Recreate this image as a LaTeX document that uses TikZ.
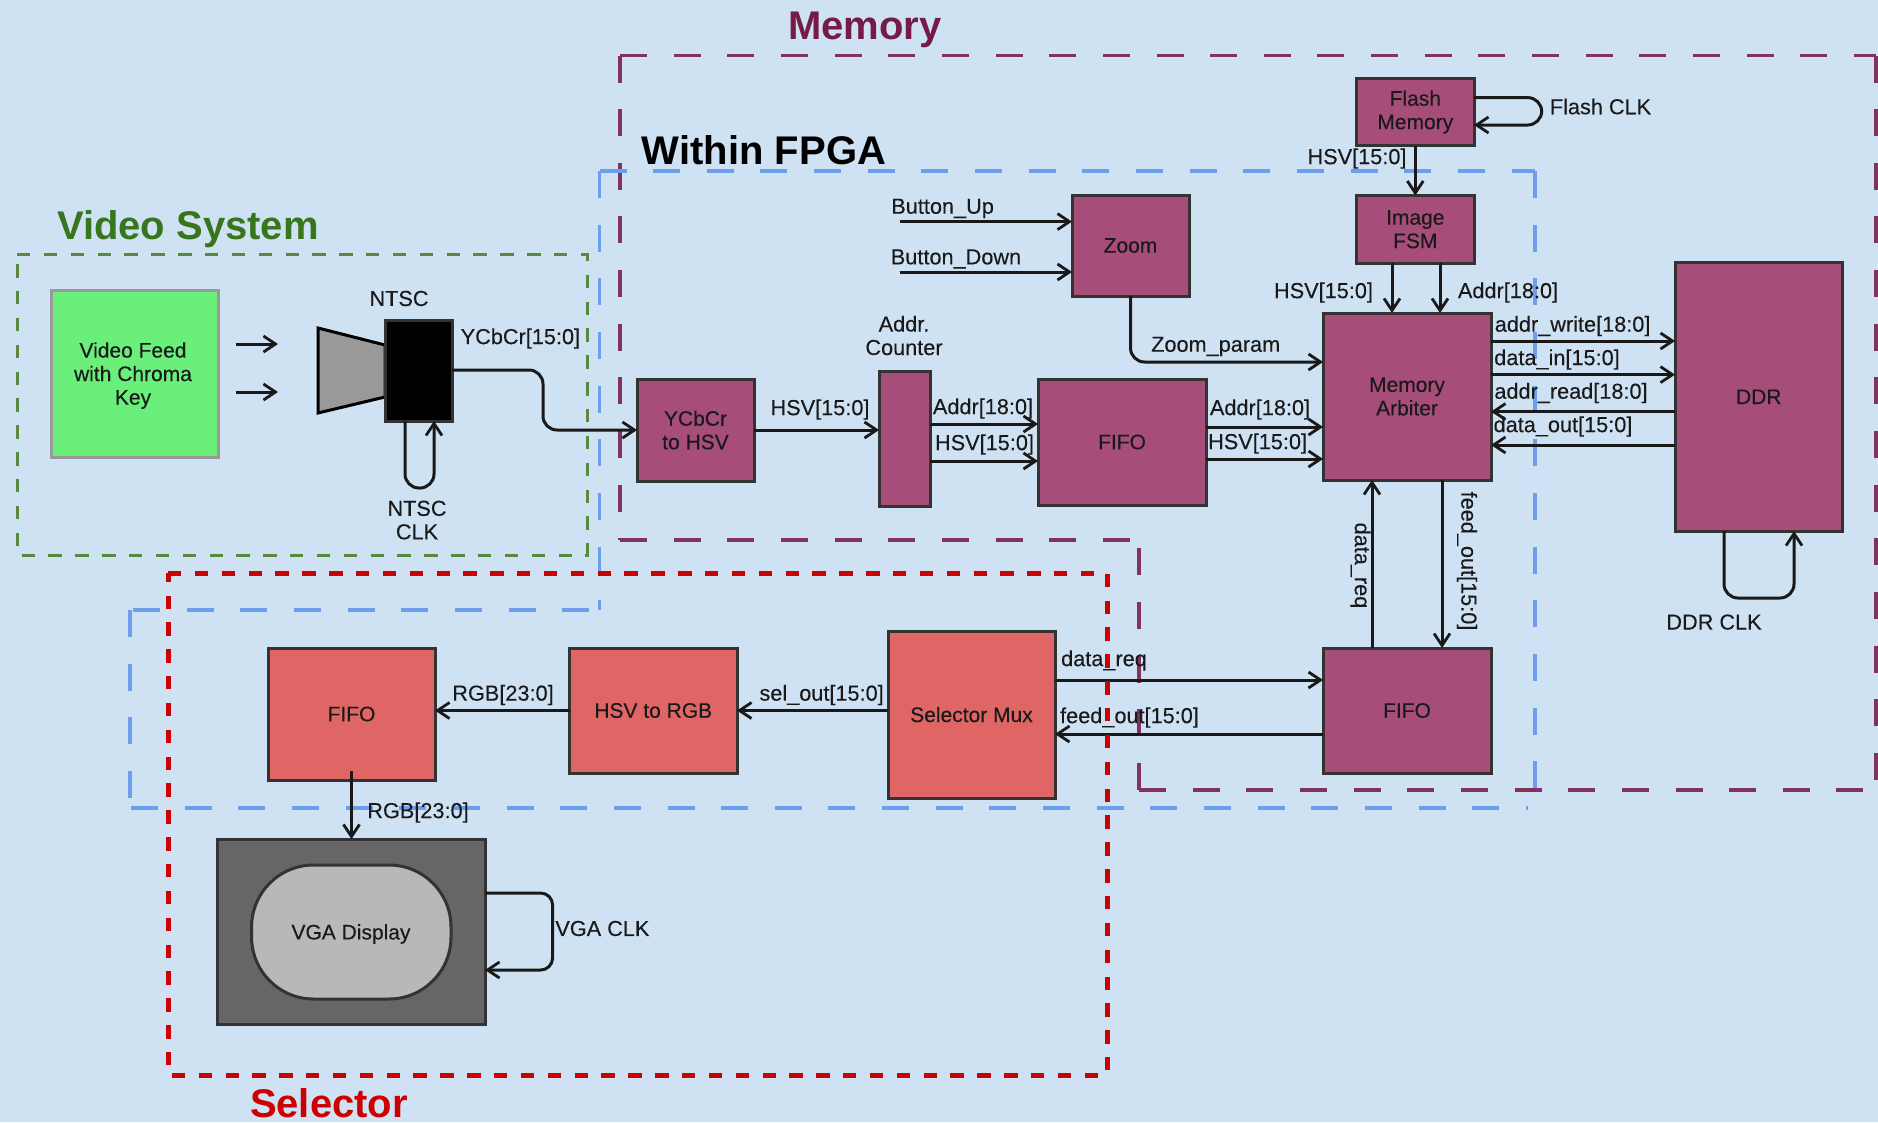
\documentclass[tikz,border=0pt]{standalone}
\usepackage{fontspec}
\setmainfont{Liberation Sans}
\newfontfamily\lblfont[FakeBold=0.15]{Liberation Sans}
\usetikzlibrary{arrows.meta,calc}
\definecolor{bgc}{HTML}{CFE2F3}
\definecolor{plum}{HTML}{A64D79}
\definecolor{salmon}{HTML}{E06666}
\definecolor{edgec}{HTML}{333333}
\definecolor{memc}{HTML}{741B47}
\definecolor{memd}{HTML}{82325F}
\definecolor{fpgac}{HTML}{6D9EEB}
\definecolor{vidc}{HTML}{38761D}
\definecolor{selc}{HTML}{CC0000}
\definecolor{feedc}{HTML}{6AEF7A}
\tikzset{
  x=1pt,y=-1pt,
  lbl/.style={inner sep=0pt,outer sep=0pt,align=center,text=black!90,font=\lblfont\fontsize{21}{23.5}\selectfont},
  tag/.style={inner sep=0pt,outer sep=0pt,align=center,text=black!90,font=\lblfont\fontsize{21.7}{23.5}\selectfont,yshift=-1.5pt},
  title/.style={inner sep=0pt,outer sep=0pt,font=\fontsize{40}{44}\selectfont\bfseries},
  boxb/.style={draw=edgec,line width=3pt,anchor=north west,inner sep=0pt,outer sep=0pt,lbl},
  pbox/.style={boxb,fill=plum},
  rbox/.style={boxb,fill=salmon},
  conn/.style={draw=black!90,line width=3pt,-{Straight Barb[length=12pt,width=16pt,line width=2.8pt]}},
  memzone/.style={draw=memd,line width=3.8pt,dash pattern=on 27pt off 26.65pt},
  fpgazone/.style={draw=fpgac,line width=3.5pt,dash pattern=on 27pt off 26.65pt},
  vidzone/.style={draw=vidc!85!white,line width=3pt,dash pattern=on 13.4pt off 13.45pt},
  selzone/.style={draw=selc,line width=5pt,dash pattern=on 13.4pt off 13.45pt}
}
\begin{document}
\begin{tikzpicture}
\useasboundingbox (0,0) rectangle (1878,1122);
\fill[bgc] (0,0) rectangle (1878,1122);

% zones below everything
\coordinate (mtl) at (620,55.5); \coordinate (mtr) at (1875.7,55.5);
\coordinate (mbr) at (1875.7,790); \coordinate (mbl) at (1139,790);
\coordinate (mil) at (620,540); \coordinate (mir) at (1139,540);
\draw[memzone] (mtl) -- (mtr);
\draw[memzone] (mtr) -- (mbr);
\draw[memzone] (mbl) -- (mbr);
\draw[memzone] (mbl) -- (mir);
\draw[memzone] (mil) -- (mir);
\draw[memzone] (mtl) -- (mil);

\coordinate (ftl) at (599.5,171); \coordinate (ftr) at (1535,171);
\coordinate (fbr) at (1535,808); \coordinate (fil) at (130,610);
\coordinate (fir) at (599.5,610); \coordinate (fbl) at (130,808);
\coordinate (fsa) at (133,610); \coordinate (fba) at (131,808); \coordinate (fbb) at (1528,808);
\draw[fpgazone] (ftl) -- (ftr);
\draw[fpgazone] (ftr) -- (fbr);
\draw[fpgazone] (fba) -- (fbb);
\draw[fpgazone] (fil) -- (fbl);
\draw[fpgazone] (fsa) -- (fir);
\draw[fpgazone] (ftl) -- (fir);

\draw[vidzone] (17,254) -- (587,254) -- (587,555) -- (17,555) -- cycle;

% titles
\node[title,text=memc] (tmem) at (865,29.5) {Memory};
\node[title,text=black] (tfpga) at (764,150) {Within FPGA};
\node[title,text=vidc] (tvid) at (188,229.5) {Video System};
\node[title,text=selc] (tsel) at (329,1103) {Selector};

% video system
\node[boxb,draw=black!40,fill=feedc,minimum width=167pt,minimum height=167pt] (feed) at (51,290) {};
\node[lbl] (lfeed) at (133,375.6) {Video Feed\\with Chroma\\Key};
\coordinate (a1s) at (236,344); \coordinate (a1e) at (278,344);
\coordinate (a2s) at (236,392); \coordinate (a2e) at (278,392);
\draw[conn] (a1s) -- (a1e);
\draw[conn] (a2s) -- (a2e);
\draw[draw=black,line width=3pt,fill=black!40,line join=miter] (385,345) -- (318,328) -- (318,413) -- (385,397) -- cycle;
\node[boxb,draw=edgec,fill=black,minimum width=67pt,minimum height=101pt] (ntsc) at (385,320) {};
\node[tag] (lntsc) at (399,297) {NTSC};
\node[tag] (lntclk) at (417,518.6) {NTSC\\CLK};
\draw[conn,rounded corners=14pt] (ntsc.south -| 405,0) -- (405,488) -- (434,488) -- (ntsc.south -| 434,0);
\node[tag] (lycc) at (520.4,337) {YCbCr[15:0]};

% memory path boxes
\node[pbox,minimum width=117pt,minimum height=102pt] (ycc) at (637,379) {YCbCr\\to HSV};
\node[pbox,minimum width=51pt,minimum height=135pt] (cnt) at (879,371) {};
\node[tag] (lcnt) at (904,334) {Addr.\\Counter};
\node[pbox,minimum width=168pt,minimum height=126pt] (fifoa) at (1038,379) {FIFO};
\node[pbox,minimum width=117pt,minimum height=101pt] (zoom) at (1072,195) {Zoom};
\node[pbox,minimum width=117.4pt,minimum height=67pt] (flash) at (1356.6,78.5) {Flash\\Memory};
\node[pbox,minimum width=117.4pt,minimum height=67.5pt] (fsm) at (1356.6,195.5) {Image\\FSM};
\node[pbox,minimum width=168pt,minimum height=167pt] (arb) at (1323,313) {Memory\\Arbiter};
\node[pbox,minimum width=167.5pt,minimum height=268.6pt] (ddr) at (1675,262.5) {DDR};
\node[pbox,minimum width=168pt,minimum height=125pt] (fifob) at (1323,648) {FIFO};

% selector boxes
\node[rbox,minimum width=167pt,minimum height=167pt] (mux) at (888,631) {Selector Mux};
\node[rbox,minimum width=167.5pt,minimum height=125pt] (h2r) at (569.5,648) {HSV to RGB};
\node[rbox,minimum width=167pt,minimum height=132pt] (fifor) at (268,648) {FIFO};
\node[boxb,fill=black!60,minimum width=268pt,minimum height=185pt] (vga) at (217,839) {};
\node[draw=edgec,line width=3pt,fill=black!28,rounded corners=62pt,anchor=north west,inner sep=0pt,outer sep=0pt,minimum width=199.4pt,minimum height=134pt] (disp) at (251.6,865) {};
\node[lbl] (ldisp) at (351,934) {VGA Display};

% connectors
\draw[conn,rounded corners=14pt] (ntsc.east |- 0,370) -- (543,370) -- (543,430) -- (ycc.west |- 0,430);
\draw[conn] (ycc.east |- 0,430) -- (cnt.west |- 0,430);
\draw[conn] (cnt.east |- 0,424) -- (fifoa.west |- 0,424);
\draw[conn] (cnt.east |- 0,461) -- (fifoa.west |- 0,461);
\draw[conn] (fifoa.east |- 0,427) -- (arb.west |- 0,427);
\draw[conn] (fifoa.east |- 0,459) -- (arb.west |- 0,459);
\coordinate (bup) at (899.5,221.6);
\coordinate (bdn) at (899.5,272);
\draw[conn] (bup) -- (zoom.west |- bup);
\draw[conn] (bdn) -- (zoom.west |- bdn);
\draw[conn,rounded corners=14pt] (zoom.south) -- (zoom.south |- 0,362) -- (arb.west |- 0,362);
\draw[conn] (flash.south) -- (fsm.north);
\draw[conn,rounded corners=14pt] (flash.east |- 0,97.6) -- (1541.7,97.6) -- (1541.7,125) -- (flash.east |- 0,125);
\draw[conn] (fsm.south -| 1392,0) -- (arb.north -| 1392,0);
\draw[conn] (fsm.south -| 1440,0) -- (arb.north -| 1440,0);
\draw[conn] (arb.east |- 0,341) -- (ddr.west |- 0,341);
\draw[conn] (arb.east |- 0,374.6) -- (ddr.west |- 0,374.6);
\draw[conn] (ddr.west |- 0,411.6) -- (arb.east |- 0,411.6);
\draw[conn] (ddr.west |- 0,445) -- (arb.east |- 0,445);
\draw[conn,rounded corners=14pt] (ddr.south -| 1724,0) -- (1724,598) -- (1794,598) -- (ddr.south -| 1794,0);
\draw[conn] (fifob.north -| 1372,0) -- (arb.south -| 1372,0);
\draw[conn] (arb.south -| 1442,0) -- (fifob.north -| 1442,0);
\draw[conn] (mux.east |- 0,680) -- (fifob.west |- 0,680);
\draw[conn] (fifob.west |- 0,734) -- (mux.east |- 0,734);
\draw[conn] (mux.west |- 0,710.5) -- (h2r.east |- 0,710.5);
\draw[conn] (h2r.west |- 0,710.5) -- (fifor.east |- 0,710.5);
\draw[conn,line width=2.2pt] ([yshift=9pt]fifor.south) -- (vga.north -| fifor.south);
\draw[conn,rounded corners=12pt] (vga.east |- 0,893) -- (552.6,893) -- (552.6,970) -- (vga.east |- 0,970);

% labels
\node[tag] (l01) at (820,408) {HSV[15:0]};
\node[tag] (l02) at (983,407) {Addr[18:0]};
\node[tag] (l03) at (984.5,443) {HSV[15:0]};
\node[tag] (l04) at (1260,408) {Addr[18:0]};
\node[tag] (l05) at (1257.6,442) {HSV[15:0]};
\node[tag] (l06) at (942.6,207) {Button\_Up};
\node[tag] (l07) at (956,257.5) {Button\_Down};
\node[tag] (l08) at (1215.7,345) {Zoom\_param};
\node[tag] (l09) at (1357,157) {HSV[15:0]};
\node[tag] (l10) at (1600.5,105) {Flash CLK};
\node[tag] (l11) at (1323.5,291) {HSV[15:0]};
\node[tag] (l12) at (1508,291) {Addr[18:0]};
\node[tag] (l13) at (1572.6,324.6) {addr\_write[18:0]};
\node[tag] (l14) at (1557,358) {data\_in[15:0]};
\node[tag] (l15) at (1571,391.6) {addr\_read[18:0]};
\node[tag] (l16) at (1563,425) {data\_out[15:0]};
\node[tag,rotate=-90,yshift=1.5pt] (l17) at (1359,564) {data\_req};
\node[tag,rotate=-90,yshift=1.5pt] (l18) at (1465.5,559.5) {feed\_out[15:0]};
\node[tag] (l19) at (1714,620.6) {DDR CLK};
\node[tag] (l20) at (1104,659) {data\_req};
\node[tag] (l21) at (1129.5,716) {feed\_out[15:0]};
\node[tag] (l22) at (821.6,693.5) {sel\_out[15:0]};
\node[tag] (l23) at (503,693.5) {RGB[23:0]};
\node[tag] (l24) at (418,811) {RGB[23:0]};
\node[tag] (l25) at (602.4,927) {VGA CLK};

% selector zone on top
\draw[selzone] (168,573) -- (1107,573) -- (1107,1075) -- (168,1075) -- cycle;
\end{tikzpicture}
\end{document}
